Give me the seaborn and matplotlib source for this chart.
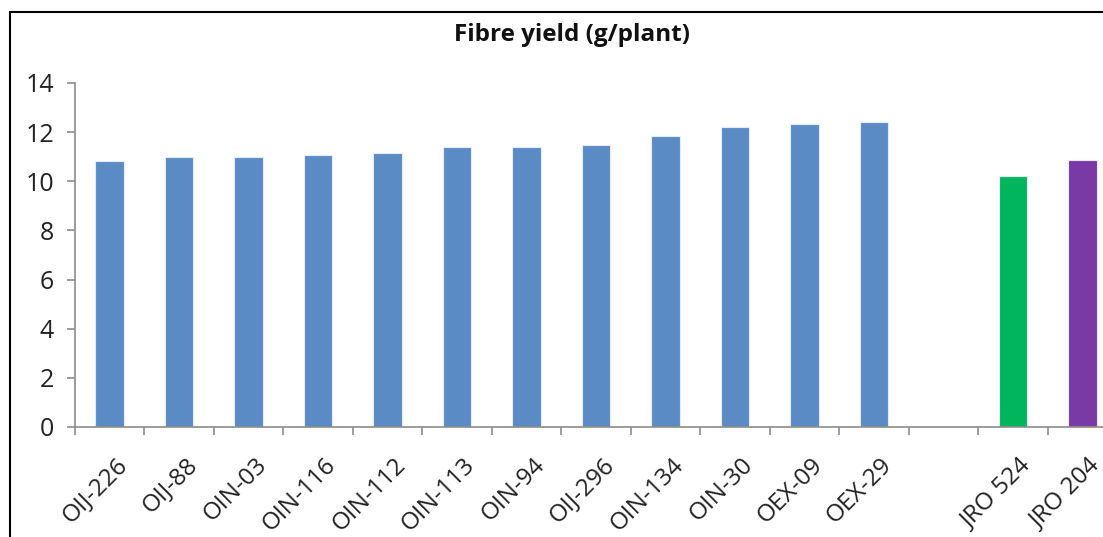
import matplotlib
matplotlib.use("Agg")
import matplotlib.pyplot as plt
from matplotlib.patches import Rectangle
from matplotlib.ticker import FixedLocator
from matplotlib.transforms import ScaledTranslation
import numpy as np
import pandas as pd
import seaborn as sns

# Fibre yield per genotype (g/plant); the blank slot separates lines from checks
genotypes = ["OIJ-226", "OIJ-88", "OIN-03", "OIN-116", "OIN-112", "OIN-113",
             "OIN-94", "OIJ-296", "OIN-134", "OIN-30", "OEX-09", "OEX-29",
             " ", "JRO 524", "JRO 204"]
fibre_yield = [10.83, 10.98, 10.98, 11.09, 11.15, 11.39,
               11.39, 11.47, 11.83, 12.20, 12.35, 12.40,
               np.nan, 10.20, 10.85]
y_ticks = [0, 2, 4, 6, 8, 10, 12, 14]

line_color = "#5B8BC5"
colors = {g: line_color for g in genotypes}
colors["JRO 524"] = "#00B55B"
colors["JRO 204"] = "#7A3AA5"

df = pd.DataFrame({"genotype": genotypes, "yield": fibre_yield})

sns.set_theme(style="white")
plt.rcParams["font.family"] = ["Open Sans", "DejaVu Sans"]

fig = plt.figure(figsize=(11.03, 5.37), dpi=100)
ax = fig.add_axes([75 / 1103, 1 - 427 / 537, 1042 / 1103, (427 - 83) / 537])

sns.barplot(data=df, x="genotype", y="yield", hue="genotype", order=genotypes,
            palette=colors, legend=False, width=0.41, saturation=1, ax=ax,
            edgecolor="#e4ecf5", linewidth=0.8)

ax.set_xlim(-0.5, len(genotypes) - 0.5)
ax.set_ylim(0, 14)
ax.set_yticks(y_ticks)
ax.set_xlabel("")
ax.set_ylabel("")

grey = "#8c8c8c"
for side in ["top", "right"]:
    ax.spines[side].set_visible(False)
for side in ["left", "bottom"]:
    ax.spines[side].set_color(grey)
    ax.spines[side].set_linewidth(1.2)

ax.tick_params(axis="y", which="major", direction="out", length=6, width=1.2,
               color=grey, labelsize=18, labelcolor="#222222", pad=9, left=True)
ax.set_xticks(range(len(genotypes)))
ax.set_xticklabels(genotypes, rotation=45, ha="right", rotation_mode="anchor",
                   fontsize=17.5, color="#222222")
ax.tick_params(axis="x", which="major", length=0, pad=19, bottom=True)
ax.xaxis.set_minor_locator(FixedLocator(np.arange(-0.5, len(genotypes), 1.0)))
ax.tick_params(axis="x", which="minor", direction="out", length=6, width=1.2,
               color=grey, bottom=True)
shift = ScaledTranslation(6 / 100, 0, fig.dpi_scale_trans)
for lbl in ax.get_xticklabels():
    lbl.set_transform(lbl.get_transform() + shift)

fig.text(572 / 1103, 1 - 35 / 537, "Fibre yield (g/plant)", ha="center", va="center",
         fontsize=17.5, fontweight="bold", color="#111111")

# Outer chart frame
fig.add_artist(Rectangle((10 / 1103, -0.2), 1.2, 1.2 - 12 / 537, transform=fig.transFigure,
                         fill=False, edgecolor="black", linewidth=1.5))

fig.savefig("out.png", dpi=100)
